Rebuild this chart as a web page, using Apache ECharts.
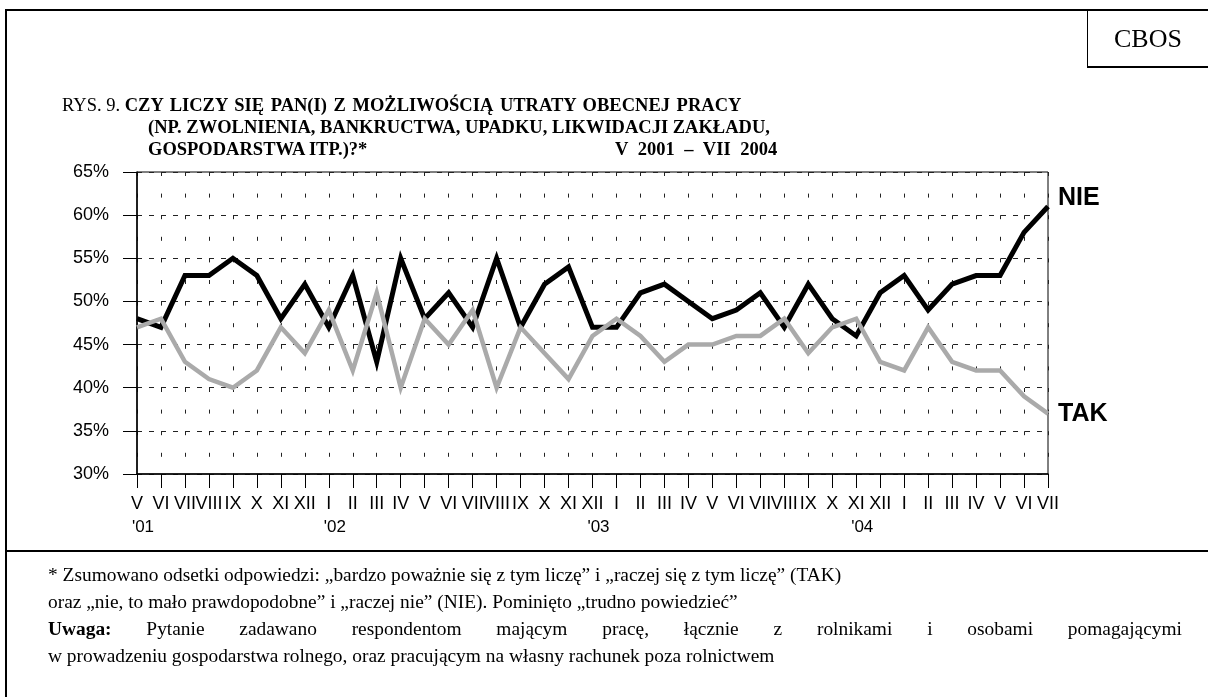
<!DOCTYPE html>
<html>
<head>
<meta charset="utf-8">
<script src="https://cdn.jsdelivr.net/npm/echarts@6/dist/echarts.min.js"></script>
<style>
  html, body { margin: 0; padding: 0; background: #fff; }
  .page { position: relative; width: 1208px; height: 697px; overflow: hidden; font-family: 'Liberation Serif', 'Times New Roman', serif; color: #000; }
  #chart { position: absolute; left: 0; top: 0; width: 1208px; height: 697px; }
  .frame-top { position: absolute; left: 5px; top: 9px; width: 1203px; height: 2px; background: #000; }
  .frame-left { position: absolute; left: 5px; top: 9px; width: 2px; height: 688px; background: #000; }
  .frame-sep { position: absolute; left: 5px; top: 550px; width: 1203px; height: 2px; background: #000; }
  .cbos { position: absolute; left: 1087px; top: 9px; width: 121px; height: 59px; border-left: 1px solid #000; border-bottom: 2px solid #000; box-sizing: border-box; font-size: 26px; line-height: 59px; text-align: center; }
  .title { position: absolute; left: 62px; top: 94px; font-size: 18.5px; line-height: 22px; white-space: nowrap; }
  .title .row { position: relative; height: 22px; }
  .title .l1 { font-weight: bold; word-spacing: 2px; }
  .title .l2 { position: absolute; left: 86px; top: 0; font-weight: bold; }
  .title .date { position: absolute; left: 553px; top: 0; font-weight: bold; word-spacing: 5px; }
  .note { position: absolute; left: 48px; top: 561px; width: 1134px; font-size: 19.4px; line-height: 27px; }
  .note .just { text-align: justify; text-align-last: justify; }
</style>
</head>
<body>
<div class="page">
  <div id="chart"></div>
  <div class="frame-top"></div>
  <div class="frame-left"></div>
  <div class="frame-sep"></div>
  <div class="cbos">CBOS</div>
  <div class="title">
    <div class="row">RYS. 9. <span class="l1">CZY LICZY SIĘ PAN(I) Z MOŻLIWOŚCIĄ UTRATY OBECNEJ PRACY</span></div>
    <div class="row"><span class="l2">(NP. ZWOLNIENIA, BANKRUCTWA, UPADKU, LIKWIDACJI ZAKŁADU,</span></div>
    <div class="row"><span class="l2">GOSPODARSTWA ITP.)?*</span><span class="date">V 2001 – VII 2004</span></div>
  </div>
  <div class="note">
    <div>* Zsumowano odsetki odpowiedzi: „bardzo poważnie się z tym liczę” i „raczej się z tym liczę” (TAK)</div>
    <div>oraz „nie, to mało prawdopodobne” i „raczej nie” (NIE). Pominięto „trudno powiedzieć”</div>
    <div class="just"><b>Uwaga:</b> Pytanie zadawano respondentom mającym pracę, łącznie z rolnikami i osobami pomagającymi</div>
    <div>w prowadzeniu gospodarstwa rolnego, oraz pracującym na własny rachunek poza rolnictwem</div>
  </div>
</div>
<script>
// miesiące badań V 2001 – VII 2004
const months = ['V', 'VI', 'VII', 'VIII', 'IX', 'X', 'XI', 'XII',
  'I', 'II', 'III', 'IV', 'V', 'VI', 'VII', 'VIII', 'IX', 'X', 'XI', 'XII',
  'I', 'II', 'III', 'IV', 'V', 'VI', 'VII', 'VIII', 'IX', 'X', 'XI', 'XII',
  'I', 'II', 'III', 'IV', 'V', 'VI', 'VII']
// podpisy lat pod osią (tak jak na oryginale)
const years = ["'01", '', '', '', '', '', '', '',
  "'02", '', '', '', '', '', '', '', '', '', '', "'03",
  '', '', '', '', '', '', '', '', '', '', "'04", '',
  '', '', '', '', '', '', '']

const nie = [48, 47, 53, 53, 55, 53, 48, 52, 47, 53,
  43, 55, 48, 51, 47, 55, 47, 52, 54, 47,
  47, 51, 52, 50, 48, 49, 51, 47, 52, 48,
  46, 51, 53, 49, 52, 53, 53, 58, 61]
const tak = [47, 48, 43, 41, 40, 42, 47, 44, 49, 42,
  51, 40, 48, 45, 49, 40, 47, 44, 41, 46,
  48, 46, 43, 45, 45, 46, 46, 48, 44, 47,
  48, 43, 42, 47, 43, 42, 42, 39, 37]

const sans = "'Liberation Sans', Arial, sans-serif"

const myChart = echarts.init(document.getElementById('chart'), null, { renderer: 'canvas' })

const option = {
  backgroundColor: 'transparent',
  animation: false,
  grid: {
    left: 137,
    right: 160,
    top: 172,
    bottom: 223,
    show: true,
    borderColor: '#000',
    borderWidth: 1
  },
  xAxis: {
    type: 'category',
    data: months,
    boundaryGap: false,
    axisLine: { lineStyle: { color: '#000', width: 1.5 } },
    axisTick: { show: true, interval: 0, length: 14, lineStyle: { color: '#000' } },
    axisLabel: {
      interval: 0,
      color: '#000',
      fontFamily: sans,
      fontSize: 18,
      lineHeight: 23,
      margin: 19,
      formatter: (v, i) => years[i] ? v + '\n{y|' + years[i] + '}' : v,
      rich: {
        y: { fontFamily: sans, fontSize: 17, lineHeight: 23, color: '#000', padding: [0, 0, 0, 12] }
      }
    },
    splitLine: {
      show: true,
      interval: 0,
      lineStyle: { color: '#222', width: 1, type: [4, 17.6] }
    }
  },
  yAxis: {
    type: 'value',
    min: 30,
    max: 65,
    interval: 5,
    axisLine: { show: true, lineStyle: { color: '#000', width: 1.5 } },
    axisTick: { show: true, length: 14, lineStyle: { color: '#000' } },
    axisLabel: {
      color: '#000',
      fontFamily: sans,
      fontSize: 18,
      margin: 28,
      formatter: '{value}%'
    },
    splitLine: {
      lineStyle: { color: '#222', width: 1, type: [5, 7] }
    }
  },
  series: [
    {
      name: 'NIE',
      type: 'line',
      data: nie,
      symbol: 'none',
      lineStyle: { color: '#000', width: 5, join: 'miter' },
      endLabel: {
        show: true,
        formatter: '{a}',
        distance: 10,
        offset: [0, -8],
        color: '#000',
        fontFamily: sans,
        fontWeight: 'bold',
        fontSize: 25
      },
      z: 2
    },
    {
      name: 'TAK',
      type: 'line',
      data: tak,
      symbol: 'none',
      lineStyle: { color: '#aaaaaa', width: 4.5, join: 'miter' },
      endLabel: {
        show: true,
        formatter: '{a}',
        distance: 10,
        offset: [0, 1],
        color: '#000',
        fontFamily: sans,
        fontWeight: 'bold',
        fontSize: 25
      },
      z: 3
    }
  ]
}

myChart.setOption(option)
</script>
</body>
</html>
